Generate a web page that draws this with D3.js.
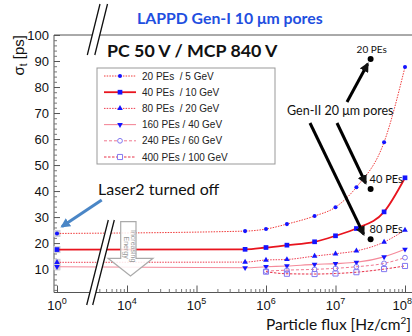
<!DOCTYPE html>
<html>
<head>
<meta charset="utf-8">
<script src="https://cdn.jsdelivr.net/npm/d3@7"></script>
<style>
body{margin:0;background:#fff}
svg{display:block}
text{font-family:"Liberation Sans",Arial,sans-serif}
.cal{font-family:Lato,"Open Sans",sans-serif}
</style>
</head>
<body>
<div id="chart"></div>
<script>
const width=412,height=336;
// measured flux points [Hz/cm2]
const flux=[1,5e5,1e6,2e6,5e6,1e7,2e7,5e7,1e8];
const seriesNames=["20 PEs  / 5 GeV","40 PEs  / 10 GeV","80 PEs  / 20 GeV","160 PEs / 40 GeV","240 PEs / 60 GeV","400 PEs / 100 GeV"];
const pe20=[23.7,24.6,25.4,27.3,30.4,33.8,41.5,58.8,87.7];
const pe40=[17.5,17.6,18.3,19.2,20.5,22.8,25.6,32.0,45.1];
const pe80=[12.6,12.7,13.5,13.7,15.0,15.9,17.0,20.4,25.0];
const pe160=[10.9,10.5,10.9,11.2,11.8,12.1,12.6,14.7,17.6];
const pe240=[null,null,9.2,9.6,9.9,10.3,10.9,12.2,14.4];
const pe400=[null,null,9.0,8.2,8.1,8.3,8.8,10.0,11.2];
const gen2Flux=3.2e7;
const gen2Labels=["20 PEs","40 PEs","80 PEs"];
const gen2Values=[90.8,40.8,21.5];
const yTicks=d3.range(10,101,10);
const xTicks=[1,1e4,1e5,1e6,1e7,1e8];

const allSeries=[pe20,pe40,pe80,pe160,pe240,pe400];
const styles=[
    {stroke:"#f03a3a",w:1,dash:"1.5,1.2",sym:d3.symbolCircle,size:13,rot:0,open:false},
    {stroke:"#e8141e",w:1.8,dash:null,sym:d3.symbolSquare,size:22,rot:0,open:false},
    {stroke:"#ee3c50",w:1,dash:"1.5,1.2",sym:d3.symbolTriangle,size:14,rot:0,open:false},
    {stroke:"#f48a9a",w:1.1,dash:null,sym:d3.symbolTriangle,size:14,rot:180,open:false},
    {stroke:"#f07890",w:1,dash:"3,2",sym:d3.symbolCircle,size:18,rot:0,open:true},
    {stroke:"#e83048",w:1,dash:"2.5,1.5",sym:d3.symbolSquare,size:26,rot:0,open:true}
];
const frame={left:54,top:35,bottom:292.5,right:412};

const svg=d3.select("#chart").append("svg").attr("width",width).attr("height",height);

// right part of the broken axis is a plain log scale, left part only holds 10^0
const xr=d3.scaleLog().domain([1e4,1e8]).range([127,405]);
const xBreak=3000;
const x=d3.scaleLog().domain([1,xBreak,1e8]).range([57,xr(xBreak),405]);
const y=d3.scaleLinear().domain([1,100]).range([frame.bottom,frame.top]);

// frame
svg.append("path")
    .attr("d",`M${frame.right},${frame.top}H${frame.left}V${frame.bottom}H${frame.right}`)
    .attr("fill","none").attr("stroke","#555").attr("stroke-width",1);

// y axis
const yMinor=d3.range(2,100,2).filter(d=>d%10!==0);
const ya=svg.append("g").attr("transform",`translate(${frame.left},0)`)
    .call(d3.axisLeft(y).tickValues(yTicks).tickSize(-6).tickPadding(5));
ya.select(".domain").remove();
ya.selectAll("line").attr("stroke","#555");
ya.selectAll("text").attr("font-size",13).attr("fill","#111").attr("font-family","Liberation Sans, Arial, sans-serif");
const ym=svg.append("g").attr("transform",`translate(${frame.left},0)`)
    .call(d3.axisLeft(y).tickValues(yMinor).tickSize(-3).tickFormat(""));
ym.select(".domain").remove();
ym.selectAll("line").attr("stroke","#777");

// x axis
const xMinor=[];
for (let k=3;k<8;k++) for (let m=2;m<10;m++) if (m*10**k>=4000) xMinor.push(m*10**k);
const xa=svg.append("g").attr("transform",`translate(0,${frame.bottom})`)
    .call(d3.axisBottom(x).tickValues(xTicks).tickSize(-7).tickFormat(""));
xa.select(".domain").remove();
xa.selectAll("line").attr("stroke","#555");
const xm=svg.append("g").attr("transform",`translate(0,${frame.bottom})`)
    .call(d3.axisBottom(x).tickValues(xMinor).tickSize(-3.5).tickFormat(""));
xm.select(".domain").remove();
xm.selectAll("line").attr("stroke","#777");
const last=xTicks[xTicks.length-1];
const xl=svg.append("g").selectAll("text").data(xTicks).enter().append("text")
    .attr("x",d=>d===last?width:x(d)).attr("y",310)
    .attr("text-anchor",d=>d===last?"end":"middle")
    .attr("font-size",13).attr("fill","#111");
xl.append("tspan").text("10");
xl.append("tspan").attr("font-size",9).attr("dy",-6).text(d=>Math.round(Math.log10(d)));

// axis titles
svg.append("text").attr("transform","translate(24,35) rotate(-90)")
    .attr("text-anchor","end").attr("font-size",15).attr("fill","#111")
    .call(t=>{t.append("tspan").text("σ");t.append("tspan").attr("font-size",10).attr("dy",3).text("t");t.append("tspan").attr("dy",-3).text(" [ps]");});
svg.append("text").attr("class","cal").attr("x",411).attr("y",330)
    .attr("text-anchor","end").attr("font-size",15.5).attr("fill","#111")
    .call(t=>{t.append("tspan").text("Particle flux [Hz/cm");t.append("tspan").attr("font-size",10).attr("dy",-6).text("2");t.append("tspan").attr("dy",6).text("]");});

// error boxes at 10^0
svg.append("g").selectAll("rect").data(allSeries.filter(s=>s[0]!=null)).enter().append("rect")
    .attr("x",x(flux[0])-3.5).attr("y",s=>y(s[0])-3.5).attr("width",7).attr("height",7)
    .attr("fill","#d0d0d8");

// lines
const line=d3.line().x(d=>x(d[0])).y(d=>y(d[1])).curve(d3.curveMonotoneX);
allSeries.forEach((s,i)=>{
    const st=styles[i];
    const pts=flux.map((f,j)=>[f,s[j]]).filter(d=>d[1]!=null);
    svg.append("path").datum(pts).attr("d",line)
        .attr("fill","none").attr("stroke",st.stroke).attr("stroke-width",st.w)
        .attr("stroke-dasharray",st.dash);
});
// markers
allSeries.forEach((s,i)=>{
    const st=styles[i];
    const pts=flux.map((f,j)=>[f,s[j]]).filter(d=>d[1]!=null);
    svg.append("g").selectAll("path").data(pts).enter().append("path")
        .attr("d",d3.symbol(st.sym,st.size))
        .attr("transform",d=>`translate(${x(d[0])},${y(d[1])}) rotate(${st.rot})`)
        .attr("fill",st.open?"none":"#1414ff")
        .attr("stroke",st.open?"#8478f0":"none").attr("stroke-width",1);
});

// axis break marks
function breakMark(x1,y1,x2,y2,gap){
    svg.append("path").attr("d",`M${x1},${y1}L${x2},${y2}L${x2+gap},${y2}L${x1+gap},${y1}Z`).attr("fill","#fff");
    svg.append("path").attr("d",`M${x1},${y1}L${x2},${y2}M${x1+gap},${y1}L${x2+gap},${y2}`)
        .attr("stroke","#111").attr("stroke-width",1.3).attr("fill","none");
}
breakMark(100,4,87.3,55,7.5);
breakMark(108.3,220,86.7,305,6);

// legend
const lg=svg.append("g");
lg.append("rect").attr("x",97).attr("y",68).attr("width",178).attr("height",96)
    .attr("fill","#fff").attr("stroke","#999").attr("stroke-width",1);
const le=lg.selectAll("g").data(seriesNames).enter().append("g")
    .attr("transform",(d,i)=>`translate(0,${76+i*16.2})`);
le.append("line").attr("x1",104).attr("x2",136).attr("y1",0).attr("y2",0)
    .attr("stroke",(d,i)=>styles[i].stroke).attr("stroke-width",(d,i)=>styles[i].w)
    .attr("stroke-dasharray",(d,i)=>styles[i].dash);
le.append("path").attr("d",(d,i)=>d3.symbol(styles[i].sym,styles[i].size)())
    .attr("transform",(d,i)=>`translate(120,0) rotate(${styles[i].rot})`)
    .attr("fill",(d,i)=>styles[i].open?"#fff":"#1414ff")
    .attr("stroke",(d,i)=>styles[i].open?"#8478f0":"none");
le.append("text").attr("x",142).attr("y",3.5).attr("font-size",10).attr("fill","#222")
    .style("white-space","pre").text(d=>d);

// titles
svg.append("text").attr("class","cal").attr("x",137).attr("y",24).attr("font-size",15.8)
    .attr("font-weight","bold").attr("fill","#1f4fe0").text("LAPPD Gen-I 10 μm pores");
svg.append("text").attr("class","cal").attr("x",107).attr("y",57).attr("font-size",17.8)
    .attr("font-weight","bold").attr("fill","#111").text("PC 50 V / MCP 840 V");

// arrow heads
const defs=svg.append("defs");
[["ab","#111"],["abl","#4a86c6"]].forEach(([id,c])=>{
    defs.append("marker").attr("id",id).attr("viewBox","0 0 10 10").attr("refX",8).attr("refY",5)
        .attr("markerWidth",3.2).attr("markerHeight",3.2).attr("orient","auto")
        .append("path").attr("d","M0,0L10,5L0,10Z").attr("fill",c);
});

// laser annotation
svg.append("text").attr("class","cal").attr("x",98).attr("y",195).attr("font-size",16)
    .attr("fill","#111").text("Laser2 turned off");
svg.append("line").attr("x1",101.7).attr("y1",200).attr("x2",x(flux[0])+5).attr("y2",y(pe20[0])-7)
    .attr("stroke","#4a86c6").attr("stroke-width",3).attr("marker-end","url(#abl)");

// Gen-II points
const gx=x(gen2Flux);
svg.append("g").selectAll("circle").data(gen2Values).enter().append("circle")
    .attr("cx",gx).attr("cy",d=>y(d)).attr("r",3).attr("fill","#000");
svg.append("g").selectAll("text").data(gen2Labels).enter().append("text").attr("class","cal")
    .attr("x",(d,i)=>i===0?gx-14:gx-1).attr("y",(d,i)=>y(gen2Values[i])-6)
    .attr("font-size",(d,i)=>i===0?10:11).attr("fill","#111").text(d=>d);
svg.append("text").attr("class","cal").attr("x",287).attr("y",115).attr("font-size",12.5)
    .attr("fill","#111").text("Gen-II 20 μm pores");
const arrows=[[347,102,gx-3,y(gen2Values[0])+5],[337,123,gx-5,y(gen2Values[1])-6],[310,123,gx-7,y(gen2Values[2])-5]];
svg.append("g").selectAll("line").data(arrows).enter().append("line")
    .attr("x1",d=>d[0]).attr("y1",d=>d[1]).attr("x2",d=>d[2]).attr("y2",d=>d[3])
    .attr("stroke","#000").attr("stroke-width",3).attr("marker-end","url(#ab)");

// increasing energy arrow
svg.append("path")
    .attr("d","M120.7,221.7H136V258.3H153L130.5,276L108,258.3H120.7Z")
    .attr("fill","#fff").attr("fill-opacity",0.85).attr("stroke","#aaa").attr("stroke-width",1.2);
svg.append("text").attr("transform","translate(131,230) rotate(90)").attr("font-size",7)
    .attr("fill","#999").text("Increasing");
svg.append("text").attr("transform","translate(123.5,236.5) rotate(90)").attr("font-size",7)
    .attr("fill","#999").text("Energy");
</script>
</body>
</html>
